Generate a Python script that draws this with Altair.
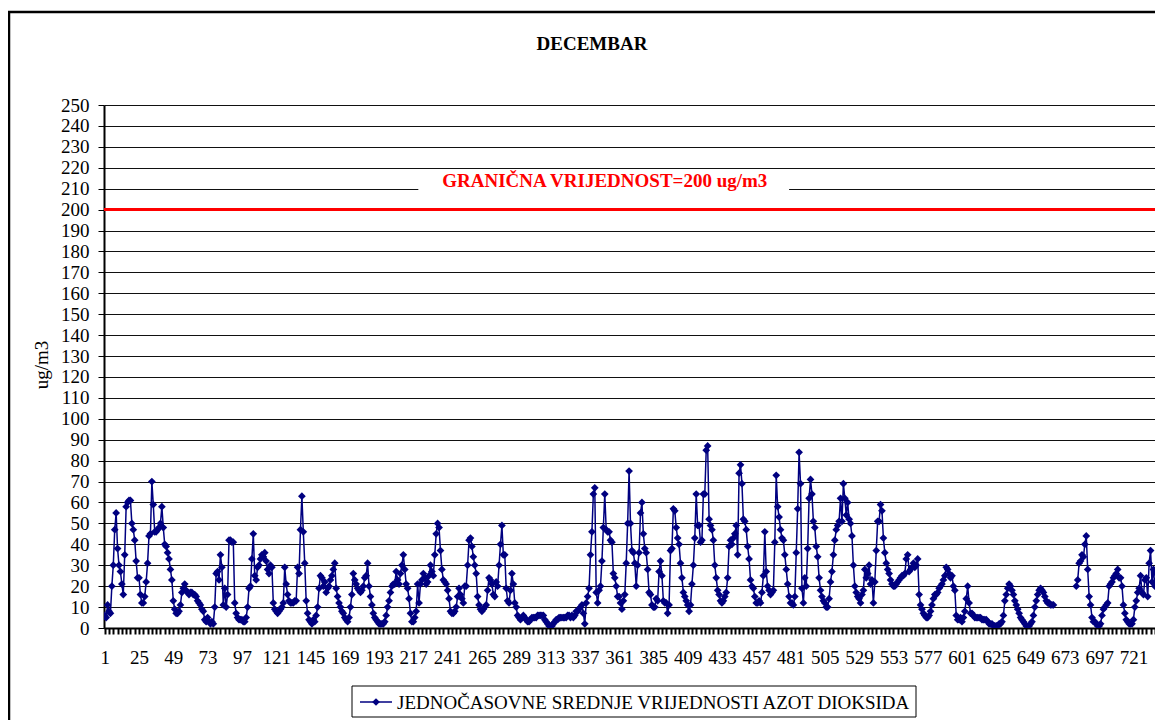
import altair as alt
import pandas as pd

FONT = "Liberation Serif"
NAVY = "#000080"
SERIES = "JEDNOČASOVNE SREDNJE VRIJEDNOSTI AZOT DIOKSIDA"
TITLE = "DECEMBAR"
Y_TITLE = "ug/m3"
LIMIT_LABEL = "GRANIČNA VRIJEDNOST=200 ug/m3"
LIMIT = 200

# hourly NO2 values (ug/m3), hours 1..744 of December; None = missing
h001_072 = [6, 5, 11, 8, 7, 20, 30, 47, 55, 38, 30, 27, 21, 16, 35, 58, 60, 61, 61, 50,
            47, 42, 32, 24, 24, 16, 12, 12, 15, 22, 31, 44, 45, 70, 59, 46, 46, 47, 48, 50,
            58, 48, 40, 39, 36, 33, 28, 23, 13, 9, 7, 7, 8, 11, 17, 19, 21, 18, 17, 16,
            17, 17, 16, 16, 15, 13, 12, 11, 9, 8, 4, 3]
h073_146 = [5, 3, 2, 3, 2, 10, 26, 27, 23, 35, 29, 11, 19, 10, 16, 42, 42, 41, 41, 12,
            7, 5, 4, 4, 4, 3, 3, 5, 10, 19, 20, 33, 45, 25, 23, 29, 30, 33, 35, 34,
            36, 32, 28, 26, 30, 29, 12, 9, 8, 7, 8, 9, 10, 12, 29, 21, 16, 13, 12, 12,
            12, 13, 13, 29, 26, 47, 63, 46, 31, 13, 7, 4, 3, 2]
h147_220 = [4, 3, 6, 10, 19, 25, 24, 20, 22, 17, 19, 20, 23, 25, 28, 31, 19, 15, 12, 10,
            8, 7, 5, 4, 3, 5, 10, 16, 26, 23, 21, 19, 18, 17, 18, 20, 24, 25, 31, 20,
            15, 11, 7, 5, 4, 3, 2, 2, 2, 2, 3, 6, 10, 13, 17, 20, 21, 21, 27, 23,
            21, 26, 30, 35, 28, 21, 19, 14, 7, 3, 3, 5, 8, 21]
h221_294 = [12, 21, 23, 26, 24, 21, 22, 25, 30, 27, 25, 35, 45, 50, 48, 37, 28, 23, 22, 21,
            18, 14, 8, 7, 7, 8, 10, 15, 19, 16, 14, 12, 20, 20, 30, 42, 43, 39, 34, 30,
            26, 15, 11, 9, 8, 9, 10, 11, 18, 24, 23, 21, 16, 15, 22, 20, 30, 40, 49, 35,
            35, 19, 13, 12, 18, 26, 21, 12, 10, 6, 5, 4, 5, 6]
h295_368 = [5, 4, 3, 3, 4, 5, 5, 5, 5, 6, 6, 6, 6, 6, 4, 3, 2, 1, 1, 1,
            2, 3, 4, 4, 5, 5, 5, 5, 5, 5, 6, 6, 5, 6, 5, 6, 8, 8, 9, 10,
            11, 7, 2, 12, 15, 19, 35, 46, 64, 67, 17, 12, 18, 20, 32, 48, 64, 47, 46, 46,
            42, 41, 26, 24, 20, 15, 15, 12, 9, 13, 16, 31, 50, 75]
h369_442 = [50, 37, 36, 31, 20, 30, 36, 55, 60, 45, 38, 36, 28, 17, 16, 11, 10, 10, 14, 13,
            27, 32, 25, 13, 12, 12, 7, 11, 37, 38, 57, 56, 48, 43, 40, 31, 24, 17, 15, 13,
            11, 8, 11, 21, 30, 43, 64, 49, 49, 41, 42, 64, 64, 85, 87, 52, 49, 47, 42, 30,
            24, 18, 16, 13, 12, 13, 15, 17, 24, 39, 42, 40, 43, 45]
h443_516 = [49, 35, 74, 78, 69, 52, 51, 47, 39, 33, 23, 20, 19, 15, 12, 12, 13, 12, 17, 25,
            46, 27, 20, 18, 16, 17, 18, 41, 73, 58, 53, 47, 43, 42, 35, 28, 21, 15, 12, 12,
            11, 15, 36, 57, 84, 69, 19, 12, 24, 20, 38, 62, 71, 64, 51, 48, 39, 34, 24, 18,
            15, 13, 12, 10, 10, 14, 22, 27, 35, 42, 47, 49, 51, 62]
h517_590 = [51, 69, 62, 54, 60, 52, 50, 44, 30, 20, 17, 15, 14, 12, 16, 18, 28, 24, 26, 30,
            21, 23, 12, 22, 37, 51, 51, 59, 56, 43, 36, 31, 28, 26, 23, 21, 20, 20, 21, 22,
            23, 24, 25, 25, 26, 33, 35, 27, 28, 29, 31, 29, 30, 33, 16, 11, 9, 7, 6, 5,
            5, 6, 8, 11, 14, 16, 16, 17, 19, 20, 21, 23, 25, 29]
h591_665 = [28, 26, 24, 25, 20, 18, 6, 4, 4, 5, 3, 5, 8, 14, 20, 12, 7, 7, 6, 5,
            5, 5, 5, 5, 4, 4, 4, 4, 3, 2, 2, 2, 1, 1, 1, 1, 2, 2, 3, 6,
            13, 16, 19, 21, 20, 18, 16, 13, 11, 9, 7, 5, 4, 3, 2, 1, 0.5, 1, 2, 3,
            6, 10, 13, 16, 18, 19, 18, 17, 15, 13, 12, 12, 11, 11, 11]
h666_680 = [None] * 15
h681_740 = [20, 23, 31, 32, 35, 34, 40, 44, 28, 15, 11, 5, 3, 3, 2, 1, 1, 2, 6, 9,
            10, 11, 12, 20, 21, 22, 24, 25, 26, 28, 24, 24, 20, 11, 7, 4, 3, 2, 2, 2,
            4, 10, 13, 17, 19, 25, 17, 16, 23, 24, 15, 31, 37, 22, 28, 20, 26, 27, 26, 25]
h741_744 = [None] * 4

values = (h001_072 + h073_146 + h147_220 + h221_294 + h295_368 + h369_442 +
          h443_516 + h517_590 + h591_665 + h666_680 + h681_740 + h741_744)
hours = list(range(1, len(values) + 1))
y_ticks = list(range(0, 251, 10))
x_ticks = list(range(1, 745, 3))

rows = []
seg = 0
for h, v in zip(hours, values):
    if v is None:
        seg += 1
        continue
    rows.append({"hour": h, "value": v, "seg": seg})
df = pd.DataFrame(rows)

W, H = 1051, 523      # visible plot area
XR = 1063             # pixel length of the full 744-hour axis (runs past the page edge)

x_scale = alt.Scale(domain=[0.5, 744.5], range=[0, XR], nice=False, zero=False)
y_scale = alt.Scale(domain=[0, 250], nice=False, zero=True)

x_axis = alt.Axis(values=x_ticks, format="d",
                  labelExpr="(datum.value - 1) % 24 == 0 ? datum.label : ''",
                  tickSize=6, tickWidth=2, tickColor="black",
                  domainColor="black", domainWidth=2,
                  labelFont=FONT, labelFontSize=19, labelColor="black",
                  labelPadding=14, labelOverlap=False, labelFlush=False,
                  grid=False, title=None)
y_axis = alt.Axis(values=y_ticks, format="d",
                  tickSize=6, tickColor="black", tickWidth=1,
                  domainColor="black", domainWidth=2,
                  grid=True, gridColor="#111111", gridWidth=1,
                  labelFont=FONT, labelFontSize=19, labelColor="black",
                  labelPadding=9, labelOverlap=False, title=None)

x_enc = alt.X("hour:Q", scale=x_scale, axis=x_axis)
y_enc = alt.Y("value:Q", scale=y_scale, axis=y_axis)


def xd(v):
    return alt.XDatum(v, type="quantitative", scale=x_scale, axis=x_axis)


def yd(v):
    return alt.YDatum(v, type="quantitative", scale=y_scale, axis=y_axis)


base = alt.Chart(df)
one = alt.Data(values=[{}])

line = base.mark_line(strokeWidth=1.5, color=NAVY, clip=True).encode(
    x=x_enc, y=y_enc, detail="seg:N")

points = base.mark_point(shape="diamond", filled=True, size=60, color=NAVY,
                         opacity=1, clip=True).encode(x=x_enc, y=y_enc)

label_box = alt.Chart(one).mark_rect(fill="white").encode(
    x=xd(220.5), x2=alt.datum(480), y=yd(206), y2=alt.datum(219))

limit_rule = alt.Chart(one).mark_rule(color="#ff0000", strokeWidth=3).encode(
    y=yd(LIMIT))

limit_text = alt.Chart(one).mark_text(font=FONT, fontSize=19, fontWeight="bold",
                                      color="#ff0000").encode(
    x=xd(351), y=yd(213.7), text=alt.value(LIMIT_LABEL))

title = alt.Chart(one).mark_text(font=FONT, fontSize=19, fontWeight="bold",
                                 color="black").encode(
    x=alt.value(488), y=alt.value(-61), text=alt.value(TITLE))

ytitle = alt.Chart(one).mark_text(font=FONT, fontSize=19, color="black",
                                  angle=270).encode(
    x=alt.value(-62), y=alt.value(260), text=alt.value(Y_TITLE))

# legend drawn by hand (box, line sample with diamond, label)
leg_box = alt.Chart(one).mark_rect(fill="white", stroke="black", strokeWidth=1).encode(
    x=alt.value(248), x2=alt.value(812), y=alt.value(581), y2=alt.value(612))
leg_line = alt.Chart(one).mark_rule(color=NAVY, strokeWidth=1.5).encode(
    x=alt.value(256), x2=alt.value(288), y=alt.value(597))
leg_pt = alt.Chart(one).mark_point(shape="diamond", filled=True, size=60, color=NAVY,
                                   opacity=1).encode(x=alt.value(272), y=alt.value(597))
leg_text = alt.Chart(one).mark_text(font=FONT, fontSize=19, color="black",
                                    align="left", baseline="middle").encode(
    x=alt.value(293), y=alt.value(597.5), text=alt.value(SERIES))

frame = alt.Chart(one).mark_rect(fill="white", fillOpacity=0, stroke="black",
                                 strokeWidth=2.5).encode(
    x=alt.value(-95), x2=alt.value(W + 60), y=alt.value(-93), y2=alt.value(H + 120))

chart = alt.layer(line, points, label_box, limit_rule, limit_text, title, ytitle,
                  leg_box, leg_line, leg_pt, leg_text, frame).properties(
    width=W, height=H,
    autosize=alt.AutoSizeParams(type="none"),
    padding={"left": 96, "top": 97, "right": 0, "bottom": 95},
    background="white",
).configure(font=FONT).configure_view(stroke=None)

chart.save("out.html", embed_options={"renderer": "svg", "actions": False})
